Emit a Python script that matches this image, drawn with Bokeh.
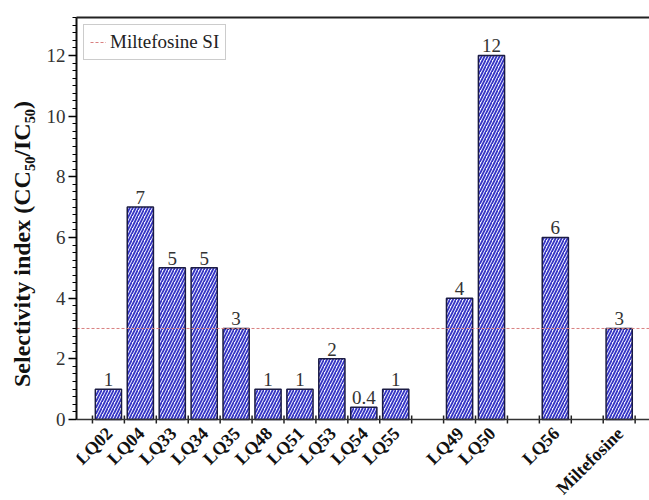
import math
from bokeh.plotting import figure
from bokeh.models import (ColumnDataSource, FixedTicker, LinearAxis, Legend,
                          LegendItem, Range1d, Span)
from bokeh.embed import file_html
from bokeh.resources import INLINE
from bokeh.core.properties import value

# ---- data ----
groups = [
    ["LQ02", "LQ04", "LQ33", "LQ34", "LQ35", "LQ48", "LQ51", "LQ53", "LQ54", "LQ55"],
    ["LQ49", "LQ50"],
    ["LQ56"],
    ["Miltefosine"],
]
si_values = [1, 7, 5, 5, 3, 1, 1, 2, 0.4, 1, 4, 12, 6, 3]
si_labels = ["1", "7", "5", "5", "3", "1", "1", "2", "0.4", "1", "4", "12", "6", "3"]
miltefosine_si = 3
y_ticks = [0, 2, 4, 6, 8, 10, 12]
y_title = "Selectivity index (CC\u2085\u2080/IC\u2085\u2080)"
legend_label = "Miltefosine SI"

# slot positions: consecutive within a group, one empty slot between groups
names, xs = [], []
pos = 0
for g in groups:
    for n in g:
        pos += 1
        names.append(n)
        xs.append(pos)
    pos += 1
edges = sorted(set([x - 0.5 for x in xs] + [x + 0.5 for x in xs]))

SERIF = "Liberation Serif"
x_start, x_end = 0, xs[-1] + 0.95
y_base, y_end = 0, 13.25
y_start = -2.67   # room below the zero line for the rotated category names

p = figure(width=649, height=500, output_backend="svg", toolbar_location=None,
           x_axis_location=None,
           x_range=Range1d(x_start, x_end), y_range=Range1d(y_start, y_end),
           min_border_left=76, min_border_top=17, min_border_right=0, min_border_bottom=0)
p.outline_line_color = None
p.grid.visible = False
p.background_fill_color = "white"

src = ColumnDataSource(dict(x=xs, top=si_values, lab=si_labels, name=names,
                            base=[y_base] * len(xs)))
p.vbar(x="x", top="top", bottom="base", width=0.82, source=src, fill_color="#f6f6ff",
       line_color="#1c1c44", line_width=1.5,
       hatch_pattern="/", hatch_color="#3434c4", hatch_scale=6, hatch_weight=1.8)

p.text(x="x", y="top", text="lab", source=src, text_align="center",
       text_baseline="bottom", y_offset=-3, text_font=value(SERIF),
       text_font_size="19px", text_color="#333333")

ref_r = p.line(x=[x_start, x_end], y=[miltefosine_si, miltefosine_si],
               line_color="#d98080", line_dash="3 2", line_width=1)

legend = Legend(items=[LegendItem(label=legend_label, renderers=[ref_r])],
                location="top_left", margin=7, padding=6, glyph_width=16,
                label_standoff=4, label_text_font=SERIF, label_text_font_size="19px",
                label_text_color="#222222", border_line_color="#999999",
                border_line_width=1, background_fill_alpha=1)
p.add_layout(legend)

# x axis (zero line, tick marks at bar edges, rotated category names)
p.add_layout(Span(location=y_base, dimension="width", line_color="#333333", line_width=1.5))
p.scatter(x=edges, y=[y_base] * len(edges), marker="dash", angle=math.pi / 2, size=8,
          line_color="#222222", line_width=1.5)
p.text(x="x", y="base", text="name", source=src, angle=math.pi / 4,
       text_align="right", text_baseline="middle", x_offset=1, y_offset=11,
       text_font=value(SERIF), text_font_style="bold",
       text_font_size="18px", text_color="#111111")

# y axis
ya = p.yaxis[0]
ya.bounds = (y_base, y_end)
ya.ticker = FixedTicker(ticks=y_ticks, minor_ticks=[i * 0.25 for i in range(0, 54)])
ya.major_tick_out = 8
ya.major_tick_in = 0
ya.minor_tick_out = 4
ya.minor_tick_in = 0
ya.major_tick_line_width = 1.5
ya.minor_tick_line_width = 1.2
ya.axis_line_width = 2
ya.axis_line_color = "#111111"
ya.major_label_text_font = SERIF
ya.major_label_text_font_size = "19px"
ya.major_label_text_color = "#333333"
ya.major_label_standoff = 3
ya.axis_label = "\u00a0" * 5 + y_title
ya.axis_label_text_font = SERIF
ya.axis_label_text_font_style = "bold"
ya.axis_label_text_font_size = "24px"
ya.axis_label_text_color = "#111111"
ya.axis_label_standoff = 9

# top frame line
top_axis = LinearAxis(ticker=FixedTicker(ticks=[]), major_label_text_font_size="0px",
                      major_tick_out=0, major_tick_in=0, minor_tick_out=0, minor_tick_in=0,
                      axis_line_width=2, axis_line_color="#222222", major_label_standoff=0)
p.add_layout(top_axis, "above")

open("out.html", "w").write(file_html(p, INLINE))
